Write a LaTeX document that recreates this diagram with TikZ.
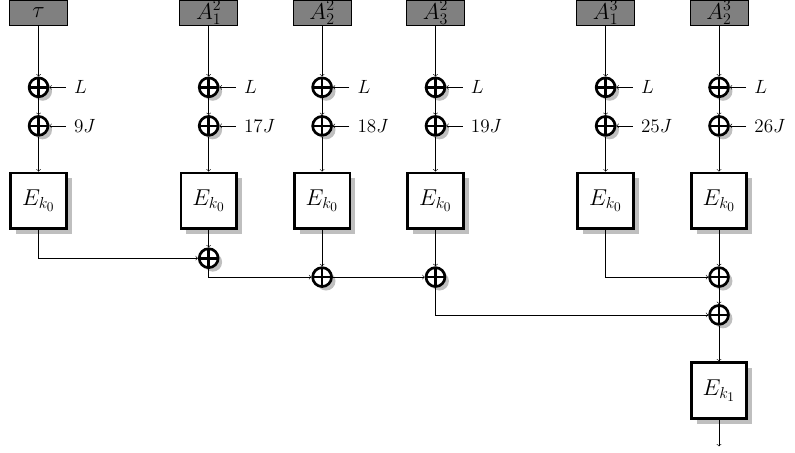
\documentclass[tikz,border=0pt]{standalone}
\usetikzlibrary{shadows}

\begin{document}
\begin{tikzpicture}
      [%%%%%%%%%%%%%%%%%%%%%%%%%%%%%%
      inbox/.style={rectangle,draw=black,fill=black!50,minimum width=1.53cm,minimum height=0.65cm,inner sep=0pt,font=\LARGE},
      enc/.style={rectangle,draw=black,line width=2pt,fill=white,minimum size=1.47cm,inner sep=0pt,font=\LARGE,
        drop shadow={shadow xshift=4pt,shadow yshift=-4pt,fill=black!25,opacity=1}},
      xor/.style={circle,draw=black,line width=2pt,fill=white,minimum size=0.5cm,inner sep=0pt,
        drop shadow={shadow xshift=3pt,shadow yshift=-3pt,fill=black!25,opacity=1},
        path picture={\draw[line width=2pt] (path picture bounding box.north) -- (path picture bounding box.south)
          (path picture bounding box.west) -- (path picture bounding box.east);}},
      lbl/.style={anchor=west,inner xsep=6pt,font=\fontsize{15.5}{18}\selectfont},
      ]%%%%%%%%%%%%%%%%%%%%%%%%%%%%%%
      \useasboundingbox (-0.02,0.01) rectangle (21.01,-11.95);

      % inputs
      \node[inbox] (in0) at (1,-0.33) {$\tau$};
      \node[inbox] (in1) at (5.5,-0.33) {$A_1^2$};
      \node[inbox] (in2) at (8.5,-0.33) {$A_2^2$};
      \node[inbox] (in3) at (11.5,-0.33) {$A_3^2$};
      \node[inbox] (in4) at (16,-0.33) {$A_1^3$};
      \node[inbox] (in5) at (19,-0.33) {$A_2^3$};

      % masks
      \node[xor] (xl0) at (1,-2.3) {};
      \node[xor] (xl1) at (5.5,-2.3) {};
      \node[xor] (xl2) at (8.5,-2.3) {};
      \node[xor] (xl3) at (11.5,-2.3) {};
      \node[xor] (xl4) at (16,-2.3) {};
      \node[xor] (xl5) at (19,-2.3) {};
      \node[xor] (xj0) at (1,-3.32) {};
      \node[xor] (xj1) at (5.5,-3.32) {};
      \node[xor] (xj2) at (8.5,-3.32) {};
      \node[xor] (xj3) at (11.5,-3.32) {};
      \node[xor] (xj4) at (16,-3.32) {};
      \node[xor] (xj5) at (19,-3.32) {};

      \node[lbl] (ll0) at (1.72,-2.3) {$L$};
      \node[lbl] (ll1) at (6.22,-2.3) {$L$};
      \node[lbl] (ll2) at (9.22,-2.3) {$L$};
      \node[lbl] (ll3) at (12.22,-2.3) {$L$};
      \node[lbl] (ll4) at (16.72,-2.3) {$L$};
      \node[lbl] (ll5) at (19.72,-2.3) {$L$};
      \node[lbl] (lj0) at (1.72,-3.32) {$9J$};
      \node[lbl] (lj1) at (6.22,-3.32) {$17J$};
      \node[lbl] (lj2) at (9.22,-3.32) {$18J$};
      \node[lbl] (lj3) at (12.22,-3.32) {$19J$};
      \node[lbl] (lj4) at (16.72,-3.32) {$25J$};
      \node[lbl] (lj5) at (19.72,-3.32) {$26J$};

      % block cipher calls
      \node[enc] (e0) at (1,-5.3) {$E_{k_0}$};
      \node[enc] (e1) at (5.5,-5.3) {$E_{k_0}$};
      \node[enc] (e2) at (8.5,-5.3) {$E_{k_0}$};
      \node[enc] (e3) at (11.5,-5.3) {$E_{k_0}$};
      \node[enc] (e4) at (16,-5.3) {$E_{k_0}$};
      \node[enc] (e5) at (19,-5.3) {$E_{k_0}$};

      % sum
      \node[xor] (s1) at (5.5,-6.82) {};
      \node[xor] (s2) at (8.5,-7.32) {};
      \node[xor] (s3) at (11.5,-7.32) {};
      \node[xor] (s4) at (19,-7.32) {};
      \node[xor] (s5) at (19,-8.32) {};
      \node[enc] (ef) at (19,-10.32) {$E_{k_1}$};
      \coordinate (out) at (19,-11.8);

      \draw[->] (in0) -- (xl0);  \draw[->] (xl0) -- (xj0);  \draw[->] (xj0) -- (e0);
      \draw[->] (in1) -- (xl1);  \draw[->] (xl1) -- (xj1);  \draw[->] (xj1) -- (e1);
      \draw[->] (in2) -- (xl2);  \draw[->] (xl2) -- (xj2);  \draw[->] (xj2) -- (e2);
      \draw[->] (in3) -- (xl3);  \draw[->] (xl3) -- (xj3);  \draw[->] (xj3) -- (e3);
      \draw[->] (in4) -- (xl4);  \draw[->] (xl4) -- (xj4);  \draw[->] (xj4) -- (e4);
      \draw[->] (in5) -- (xl5);  \draw[->] (xl5) -- (xj5);  \draw[->] (xj5) -- (e5);

      \draw[->] (ll0.west) -- (xl0);  \draw[->] (lj0.west) -- (xj0);
      \draw[->] (ll1.west) -- (xl1);  \draw[->] (lj1.west) -- (xj1);
      \draw[->] (ll2.west) -- (xl2);  \draw[->] (lj2.west) -- (xj2);
      \draw[->] (ll3.west) -- (xl3);  \draw[->] (lj3.west) -- (xj3);
      \draw[->] (ll4.west) -- (xl4);  \draw[->] (lj4.west) -- (xj4);
      \draw[->] (ll5.west) -- (xl5);  \draw[->] (lj5.west) -- (xj5);

      \draw[->] (e0) |- (s1);
      \draw[->] (e1) -- (s1);
      \draw[->] (s1) |- (s2);
      \draw[->] (e2) -- (s2);
      \draw[->] (s2) -- (s3);
      \draw[->] (e3) -- (s3);
      \draw[->] (s3) |- (s5);
      \draw[->] (e4) |- (s4);
      \draw[->] (e5) -- (s4);
      \draw[->] (s4) -- (s5);
      \draw[->] (s5) -- (ef);
      \draw[->] (ef) -- (out);
    \end{tikzpicture}
\end{document}
